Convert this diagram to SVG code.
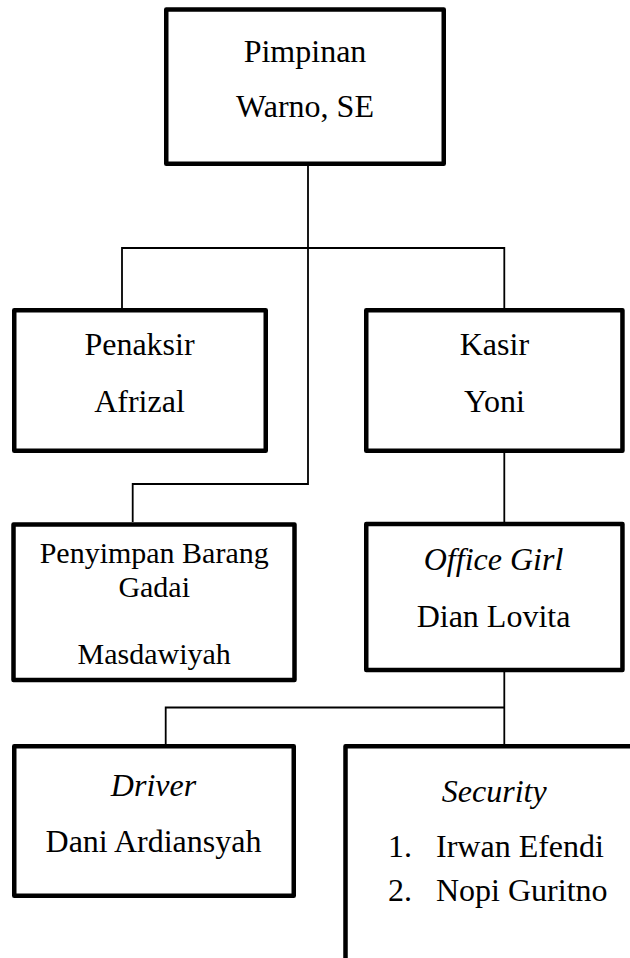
<svg xmlns="http://www.w3.org/2000/svg" width="630" height="958" viewBox="0 0 630 958">
<style>
.box{fill:#fff;stroke:#000;stroke-width:4.5;stroke-linejoin:round}
.ln{fill:none;stroke:#000;stroke-width:1.8}
.t{font-family:'Liberation Serif','Times New Roman',Times,'DejaVu Serif',serif;font-size:32px;fill:#000}
.c{text-anchor:middle}
.i{font-style:italic}
.s{font-size:30px}
</style>
<rect width="630" height="958" fill="#fff"/>
<g id="connectors">
<path class="ln" d="M308 166 V484 H132.7 V522"/>
<path class="ln" d="M122 308 V248 H504.3 V308"/>
<path class="ln" d="M504.3 453 V522"/>
<path class="ln" d="M504.3 672 V745"/>
<path class="ln" d="M165.7 744 V707.5 H504.3"/>
</g>
<g id="pimpinan">
<rect class="box" x="166.25" y="9.5" width="277.5" height="154.25"/>
<text class="t c" font-family="Liberation Serif, serif" x="305" y="62">Pimpinan</text>
<text class="t c" font-family="Liberation Serif, serif" x="305" y="117">Warno, SE</text>
</g>
<g id="penaksir">
<rect class="box" x="14.25" y="310.25" width="251.5" height="140.5"/>
<text class="t c" font-family="Liberation Serif, serif" x="139.5" y="355">Penaksir</text>
<text class="t c" font-family="Liberation Serif, serif" x="139.5" y="412">Afrizal</text>
</g>
<g id="kasir">
<rect class="box" x="366.25" y="310.25" width="256.2" height="140.5"/>
<text class="t c" font-family="Liberation Serif, serif" x="494.4" y="355">Kasir</text>
<text class="t c" font-family="Liberation Serif, serif" x="494.4" y="412">Yoni</text>
</g>
<g id="penyimpan">
<rect class="box" x="13.5" y="524.5" width="281" height="155.5"/>
<text class="t c s" font-family="Liberation Serif, serif" x="154.2" y="563.3">Penyimpan Barang</text>
<text class="t c s" font-family="Liberation Serif, serif" x="154.2" y="596.7">Gadai</text>
<text class="t c s" font-family="Liberation Serif, serif" x="154.2" y="664">Masdawiyah</text>
</g>
<g id="office-girl">
<rect class="box" x="366.25" y="524" width="256.2" height="146"/>
<text class="t c i" font-family="Liberation Serif, serif" x="493.5" y="570">Office Girl</text>
<text class="t c" font-family="Liberation Serif, serif" x="493.5" y="627.3">Dian Lovita</text>
</g>
<g id="driver">
<rect class="box" x="14.25" y="746.25" width="279.5" height="149.5"/>
<text class="t c i" font-family="Liberation Serif, serif" x="153.5" y="796">Driver</text>
<text class="t c" font-family="Liberation Serif, serif" x="153.5" y="851.7">Dani Ardiansyah</text>
</g>
<g id="security">
<rect class="box" x="345.5" y="746.25" width="300" height="300"/>
<text class="t c i" font-family="Liberation Serif, serif" x="494.2" y="801.7">Security</text>
<text class="t" font-family="Liberation Serif, serif" x="388" y="857.3">1.</text>
<text class="t" font-family="Liberation Serif, serif" x="436" y="857.3">Irwan Efendi</text>
<text class="t" font-family="Liberation Serif, serif" x="388" y="900.7">2.</text>
<text class="t" font-family="Liberation Serif, serif" x="436" y="900.7">Nopi Guritno</text>
</g>
</svg>
